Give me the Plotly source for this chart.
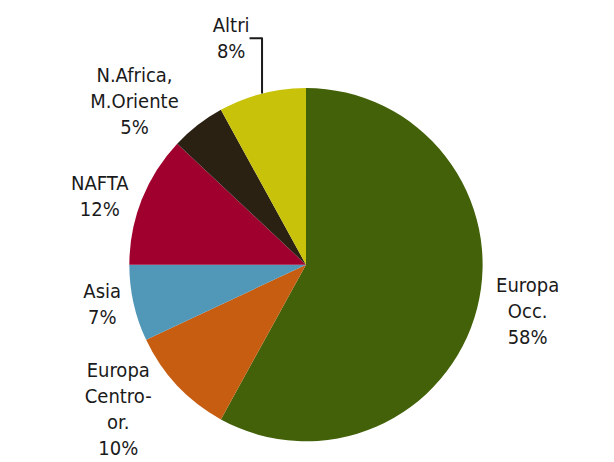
import plotly.graph_objects as go

regions = ["Europa<br>Occ.", "Europa<br>Centro-<br>or.", "Asia", "NAFTA", "N.Africa,<br>M.Oriente", "Altri"]
shares = [58, 10, 7, 12, 5, 8]
colors = ["#436109", "#C65D11", "#5097B8", "#A0002E", "#2A2113", "#C8C30A"]

fig = go.Figure(go.Pie(
    labels=regions,
    values=shares,
    sort=False,
    direction="clockwise",
    rotation=0,
    marker=dict(colors=colors, line=dict(width=0)),
    texttemplate="%{label}<br>%{value}%",
    textposition="outside",
    textfont=dict(family="DejaVu Sans Condensed", size=20, color="#1a1a1a"),
    showlegend=False,
    hoverinfo="label+value",
    domain=dict(x=[0.05, 1], y=[0.04, 1]),
))
fig.update_layout(
    width=614, height=462,
    margin=dict(l=10, r=10, t=8, b=14),
    paper_bgcolor="white",
)
fig.write_html("out.html")
